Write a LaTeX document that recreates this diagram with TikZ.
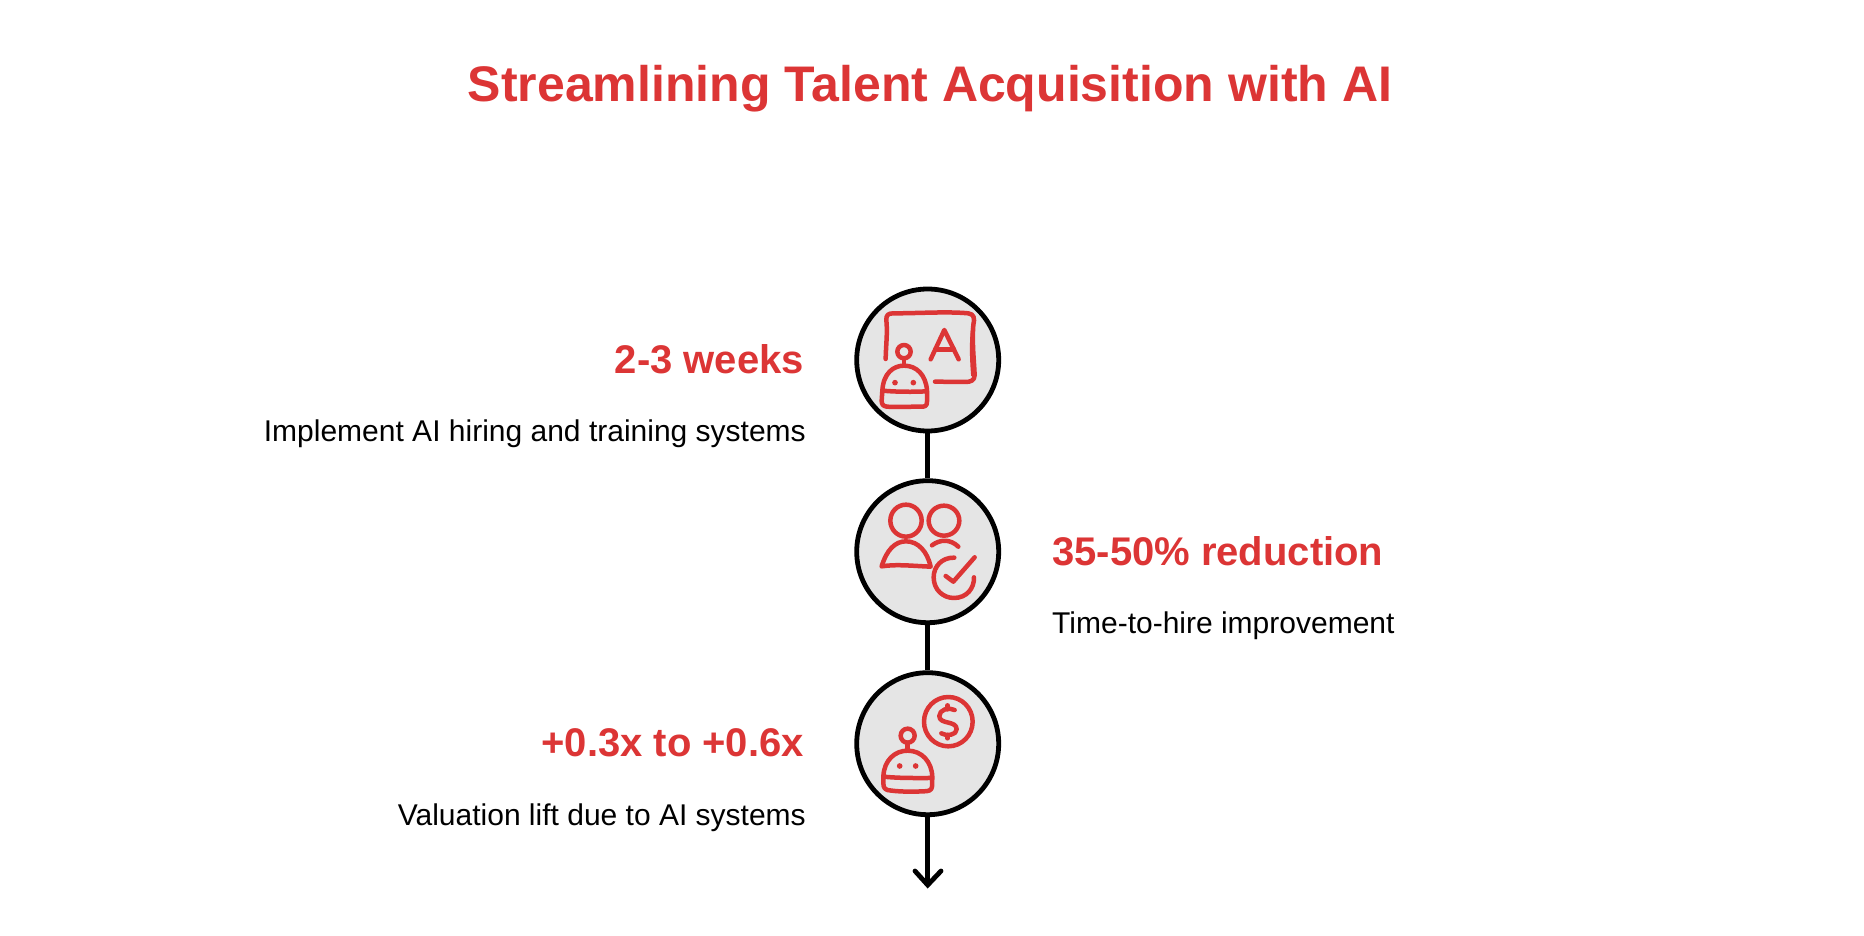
\documentclass[tikz,border=0pt]{standalone}
\usepackage{fontspec}
\setmainfont{Liberation Sans}
\definecolor{accent}{HTML}{DC3535}
\definecolor{discfill}{HTML}{E5E5E5}
\tikzset{
 disc/.style={circle,draw=black,fill=discfill,line width=4.8pt,minimum size=142pt,inner sep=0pt},
 link/.style={draw=black,line width=4.8pt},
 ink/.style={draw=accent,line width=4.5pt,line cap=round,line join=round},
 heading/.style={text=accent,font=\fontsize{40}{44}\selectfont\bfseries,inner sep=0pt},
 body/.style={text=black,font=\fontsize{30}{35}\selectfont,inner sep=0pt},
 titletext/.style={text=accent,font=\fontsize{50}{56}\selectfont\bfseries,inner sep=0pt}
}
\begin{document}
\begin{tikzpicture}[x=1pt,y=-1pt]
\useasboundingbox (0,0) rectangle (1864,936);
\fill[white] (0,0) rectangle (1864,936);
\node[titletext] (title) at (930,89) {Streamlining Talent Acquisition with AI};
\node[disc] (c1) at (927.7,360) {};
\node[disc] (c2) at (927.7,551.7) {};
\node[disc] (c3) at (927.7,743.7) {};
\coordinate (tip) at (927.7,885);
\draw[link] (c1) -- (c2);
\draw[link] (c2) -- (c3);
\draw[link] (c3) -- (tip);
\draw[link,line cap=round,line join=miter] (915,871) -- (tip) -- (941,871);
\node[heading,anchor=east] (h1) at (804,359) {2-3 weeks};
\node[body,anchor=east] (b1) at (806,433.5) {Implement AI hiring and training systems};
\node[heading,anchor=west] (h2) at (1052,551) {35-50\% reduction};
\node[body,anchor=west] (b2) at (1052,625.5) {Time-to-hire improvement};
\node[heading,anchor=east] (h3) at (804,743) {+0.3x to +0.6x};
\node[body,anchor=east] (b3) at (806,817.5) {Valuation lift due to AI systems};
% icon 1
\begin{scope}[shift={(840,270)},x=0.3333pt,y=-0.3333pt]
\draw[ink] (137,267) .. controls (138,220) and (143,190) .. (139,150) .. controls (138,135) and (145,130) .. (160,130) .. controls (240,130) and (320,124) .. (385,130) .. controls (402,132) and (405,145) .. (400,165) .. controls (396,220) and (402,270) .. (404,315) .. controls (404,332) and (392,336) .. (375,336) -- (285,335);
\draw[accent,line width=3pt] (398,170) .. controls (392,220) and (394,270) .. (398,318);
\draw[ink] (272,268) -- (313,180) -- (356,268);
\draw[ink] (286,238) -- (342,238);
\draw[ink] (192,245) circle (20);
\draw[ink] (192,265) -- (192,285);
\draw[ink] (127,362) .. controls (130,310) and (160,287) .. (192,287) .. controls (230,287) and (258,315) .. (261,362) -- (261,395) .. controls (261,408) and (255,410) .. (245,410) .. controls (200,410) and (170,412) .. (140,410) .. controls (128,408) and (125,402) .. (125,392) -- (127,362) .. controls (170,366) and (220,366) .. (261,364);
\fill[accent] (165,338) circle (8.5) (220,338) circle (8.5);
\end{scope}
% icon 2
\begin{scope}[shift={(840,460)},x=0.3333pt,y=-0.3333pt]
\draw[ink] (198,182) ellipse (47 and 48);
\draw[ink] (312,182) ellipse (46 and 45);
\draw[ink] (125,319) .. controls (140,270) and (165,244) .. (198,244) .. controls (235,244) and (262,275) .. (272,320) .. controls (220,318) and (170,312) .. (125,319);
\draw[ink] (276,256) .. controls (300,238) and (330,236) .. (355,260);
\draw[ink] (343,293) .. controls (305,292) and (281,320) .. (281,352) .. controls (281,390) and (310,414) .. (342,414) .. controls (380,414) and (403,385) .. (402,352);
\draw[ink] (317,348) -- (340,365) -- (404,292);
\end{scope}
% icon 3
\begin{scope}[shift={(840,660)},x=0.3333pt,y=-0.3333pt]
\draw[ink] (325,185) ellipse (73 and 74);
\draw[ink] (344,150) .. controls (325,140) and (298,150) .. (298,168) .. controls (298,195) and (350,180) .. (350,208) .. controls (350,225) and (320,230) .. (304,220);
\draw[ink] (323,136) -- (323,148) (323,225) -- (323,235);
\draw[ink] (203,227) circle (21);
\draw[ink] (203,248) -- (203,272);
\draw[ink] (130,350) .. controls (132,300) and (165,272) .. (203,272) .. controls (245,272) and (276,305) .. (277,352) -- (276,380) .. controls (275,392) and (265,394) .. (250,394) .. controls (210,396) and (170,395) .. (142,390) .. controls (130,386) and (129,378) .. (130,350) .. controls (180,355) and (230,354) .. (277,354);
\fill[accent] (179,318) circle (8.5) (227,318) circle (8.5);
\end{scope}
\end{tikzpicture}
\end{document}
